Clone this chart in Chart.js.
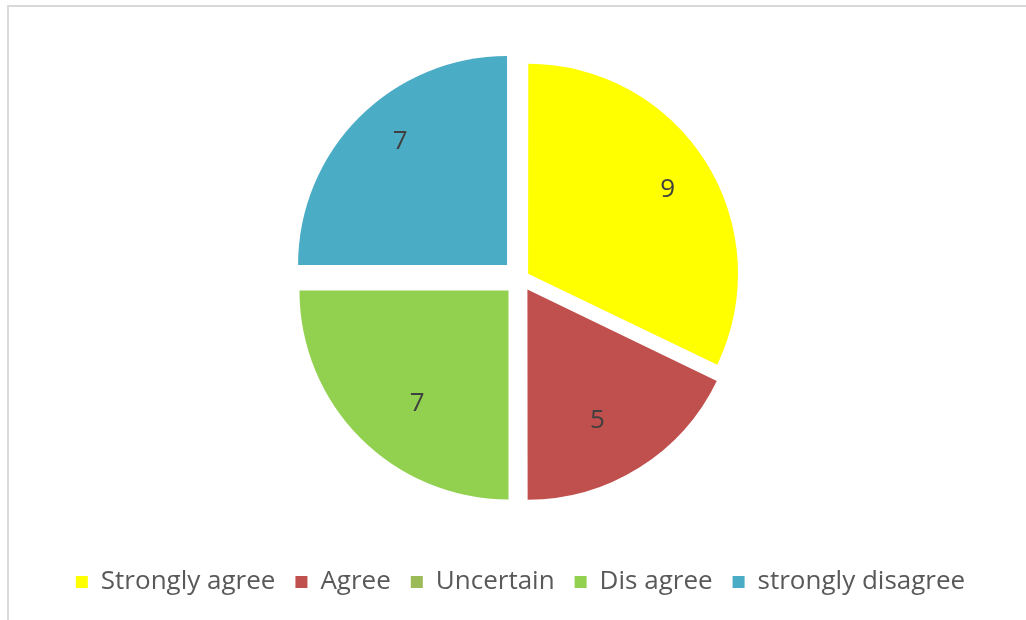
<!DOCTYPE html>
<html>
<head>
<meta charset="utf-8">
<script src="https://cdn.jsdelivr.net/npm/chart.js@4/dist/chart.umd.min.js"></script>
<style>
  html, body { margin: 0; padding: 0; background: #fff; }
  #frame {
    position: absolute; left: 7px; top: 5px; width: 1040px; height: 640px;
    border-left: 2px solid #d9d9d9; border-top: 2px solid #d9d9d9;
  }
  #wrap { position: absolute; left: 0; top: 0; width: 1026px; height: 620px; }
</style>
</head>
<body>
<div id="frame"></div>
<div id="wrap"><canvas id="pie"></canvas></div>
<script>
const categories = ['Strongly agree', 'Agree', 'Uncertain', 'Dis agree', 'strongly disagree'];
const counts = [9, 5, 0, 7, 7];
const sliceColors = ['#ffff00', '#c0504d', '#9bbb59', '#92d050', '#4bacc6'];
// how far each slice is pulled out of the pie (Chart.js divides this by 4)
const explode = [36, 52, 0, 68, 76];
// where the number sits in its slice: share of the radius, and a turn (degrees) off the middle
const labelAt = [0.78, 0.71, 0.7, 0.695, 0.78];
const labelTurn = [1, 4, 0, -6, 4];

const valueLabels = {
    id: 'valueLabels',
    afterDatasetsDraw(chart) {
        const ctx = chart.ctx;
        const meta = chart.getDatasetMeta(0);
        ctx.save();
        ctx.font = '26px "Open Sans", sans-serif';
        ctx.fillStyle = '#404040';
        ctx.textAlign = 'center';
        ctx.textBaseline = 'middle';
        meta.data.forEach((arc, i) => {
            const v = chart.data.datasets[0].data[i];
            if (!v) return;
            const mid = (arc.startAngle + arc.endAngle) / 2;
            const ox = arc.x + Math.cos(mid) * explode[i] / 4;
            const oy = arc.y + Math.sin(mid) * explode[i] / 4;
            const a = mid + labelTurn[i] * Math.PI / 180;
            const r = arc.outerRadius * labelAt[i];
            ctx.fillText(String(v), ox + Math.cos(a) * r, oy + Math.sin(a) * r);
        });
        ctx.restore();
    }
};

new Chart(document.getElementById('pie'), {
    type: 'pie',
    data: {
        labels: categories,
        datasets: [{
            data: counts,
            backgroundColor: sliceColors,
            borderWidth: 0,
            offset: explode
        }]
    },
    options: {
        responsive: true,
        maintainAspectRatio: false,
        animation: false,
        radius: 209,
        layout: { padding: { left: 15, right: 0, top: 8, bottom: 15 } },
        plugins: {
            tooltip: { enabled: false },
            legend: {
                position: 'bottom',
                labels: {
                    boxWidth: 12,
                    boxHeight: 12,
                    padding: 20,
                    color: '#595959',
                    font: { family: '"Open Sans", sans-serif', size: 26 }
                }
            }
        }
    },
    plugins: [valueLabels]
});
</script>
</body>
</html>
